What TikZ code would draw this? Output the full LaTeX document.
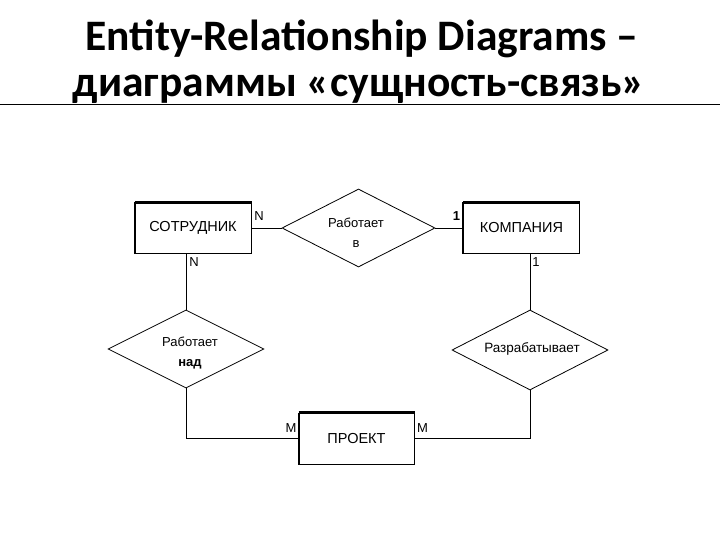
\documentclass[tikz,border=0pt]{standalone}
\usepackage{fontspec}
\setmainfont{Liberation Sans}
\newfontfamily\titlefont{Carlito}
\usetikzlibrary{shapes.geometric}
\begin{document}
\begin{tikzpicture}[x=1pt,y=-1pt,
 entity/.style={draw, line width=1pt, minimum width=116pt, minimum height=50pt, inner sep=0pt, font=\fontsize{14.5}{16}\selectfont},
 rel/.style={draw, diamond, aspect=2, line width=0.8pt, minimum width=156pt, minimum height=78pt, inner sep=0pt},
 reltext/.style={inner sep=0pt, align=center, font=\fontsize{13}{20}\selectfont},
 card/.style={inner sep=0pt, font=\fontsize{13}{15}\selectfont},
 conn/.style={line width=0.8pt},
 thickedge/.style={line width=2.5pt},
 ttl/.style={font=\titlefont\bfseries\fontsize{43.5}{48}\selectfont, anchor=base, inner sep=0pt}]
\useasboundingbox (0,0) rectangle (720,540);
\node[ttl] (t1) at (362,50.5) {Entity-Relationship Diagrams –};
\node[ttl] (t2) at (359,96.7) {диаграммы «сущность-связь»};
\coordinate (hl) at (0,105);
\coordinate (hr) at (720,105);
\draw[line width=1pt] (hl) -- (hr);

\node[entity] (sotr) at (193,228) {СОТРУДНИК};
\node[entity] (komp) at (521.5,228) {КОМПАНИЯ};
\node[entity, minimum width=115pt, minimum height=51pt] (proj) at (356.5,438.5) {ПРОЕКТ};
\foreach \n in {sotr,komp,proj}{
  \draw[thickedge] (\n.north west) -- (\n.north east);
  \draw[line width=1.8pt] (\n.north west) -- (\n.south west);
}

\node[rel, minimum width=153pt] (rabv) at (358.5,228) {};
\node[reltext] (rabvt) at (356,233) {Работает\\в};
\node[rel] (rabnad) at (186,349) {};
\node[reltext] (rabnadt) at (190,353) {Работает\\\textbf{над}};
\node[rel, minimum height=80pt] (razr) at (530,350) {};
\node[reltext, font=\fontsize{13.5}{20}\selectfont] (razrt) at (532,349) {Разрабатывает};

\draw[conn] (sotr.east) -- (rabv.west);
\draw[conn] (rabv.east) -- (komp.west);
\draw[conn] (rabnad.north) -- (rabnad.north |- sotr.south);
\draw[conn] (razr.north) -- (razr.north |- komp.south);
\draw[conn] (rabnad.south) |- (proj.west);
\draw[conn] (proj.east) -| (razr.south);

\node[card] (c1) at (259,216) {N};
\node[card] (c2) at (456.5,216) {\textbf{1}};
\node[card] (c3) at (194,262) {N};
\node[card] (c4) at (536,262) {1};
\node[card] (c5) at (291,428) {M};
\node[card] (c6) at (422.5,428) {M};
\end{tikzpicture}
\end{document}
